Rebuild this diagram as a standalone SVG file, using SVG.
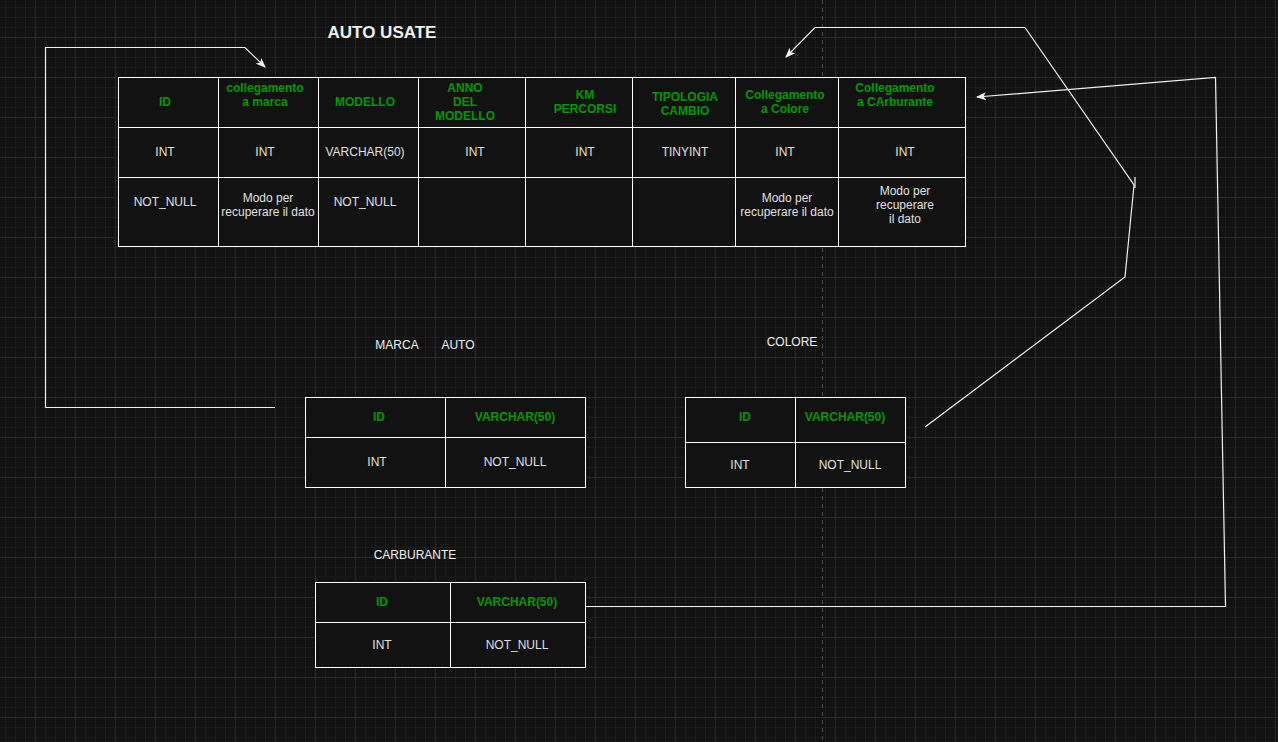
<svg xmlns="http://www.w3.org/2000/svg" width="1278" height="742" viewBox="0 0 1278 742">
<style>
.cell{fill:#121212;stroke:#ffffff;stroke-width:1}
.h{font-family:"Liberation Sans",Arial,sans-serif;font-size:12px;font-weight:bold;fill:#009900;text-anchor:middle;dominant-baseline:central}
.t{font-family:"Liberation Sans",Arial,sans-serif;font-size:12px;fill:#e0e0e0;text-anchor:middle;dominant-baseline:central}
.lbl{font-family:"Liberation Sans",Arial,sans-serif;font-size:12px;fill:#f0f0f0;text-anchor:middle;dominant-baseline:central}
.title{font-family:"Liberation Sans",Arial,sans-serif;font-size:17px;font-weight:bold;fill:#f0f0f0;text-anchor:middle;dominant-baseline:central}
.conn{fill:none;stroke:#f0f0f0;stroke-width:1.2}
</style>
<defs>
<pattern id="minor" x="5" y="7" width="10" height="10" patternUnits="userSpaceOnUse">
<path d="M0.5 0V10M0 0.5H10" stroke="#1c1c1c" stroke-width="1" fill="none"/>
</pattern>
<pattern id="major" x="35" y="37" width="40" height="40" patternUnits="userSpaceOnUse">
<path d="M0.5 0V40M0 0.5H40" stroke="#2a2a2a" stroke-width="1" fill="none"/>
</pattern>
<marker id="arr" viewBox="0 0 10 8" refX="9" refY="4" markerWidth="10" markerHeight="8" markerUnits="userSpaceOnUse" orient="auto">
<path d="M0 0L10 4L0 8L2.5 4Z" fill="#f0f0f0"/>
</marker>
</defs>
<rect width="1278" height="742" fill="#121212"/>
<rect width="1278" height="742" fill="url(#minor)"/>
<rect width="1278" height="742" fill="url(#major)"/>
<line x1="822.5" y1="0" x2="822.5" y2="742" stroke="#4a4a4a" stroke-dasharray="4 4"/>

<text class="title" x="382" y="32">AUTO USATE</text>

<g id="auto-usate">
<rect class="cell" x="118.5" y="77.5" width="847" height="169"/>
<line class="cell" x1="118.5" y1="127.5" x2="965.5" y2="127.5"/>
<line class="cell" x1="118.5" y1="177.5" x2="965.5" y2="177.5"/>
<line class="cell" x1="218.5" y1="77.5" x2="218.5" y2="246.5"/>
<line class="cell" x1="318.5" y1="77.5" x2="318.5" y2="246.5"/>
<line class="cell" x1="418.5" y1="77.5" x2="418.5" y2="246.5"/>
<line class="cell" x1="525.5" y1="77.5" x2="525.5" y2="246.5"/>
<line class="cell" x1="632.5" y1="77.5" x2="632.5" y2="246.5"/>
<line class="cell" x1="735.5" y1="77.5" x2="735.5" y2="246.5"/>
<line class="cell" x1="838.5" y1="77.5" x2="838.5" y2="246.5"/>
<text class="h" x="165" y="102">ID</text>
<text class="h" x="265" y="88">collegamento</text>
<text class="h" x="265" y="102">a marca</text>
<text class="h" x="365" y="102">MODELLO</text>
<text class="h" x="465" y="88">ANNO</text>
<text class="h" x="465" y="102">DEL</text>
<text class="h" x="465" y="116">MODELLO</text>
<text class="h" x="585" y="95">KM</text>
<text class="h" x="585" y="109">PERCORSI</text>
<text class="h" x="685" y="97">TIPOLOGIA</text>
<text class="h" x="685" y="111">CAMBIO</text>
<text class="h" x="785" y="95">Collegamento</text>
<text class="h" x="785" y="109">a Colore</text>
<text class="h" x="895" y="88">Collegamento</text>
<text class="h" x="895" y="102">a CArburante</text>
<text class="t" x="165" y="152">INT</text>
<text class="t" x="265" y="152">INT</text>
<text class="t" x="365" y="152">VARCHAR(50)</text>
<text class="t" x="475" y="152">INT</text>
<text class="t" x="585" y="152">INT</text>
<text class="t" x="685" y="152">TINYINT</text>
<text class="t" x="785" y="152">INT</text>
<text class="t" x="905" y="152">INT</text>
<text class="t" x="165" y="202">NOT_NULL</text>
<text class="t" x="268" y="198">Modo per</text>
<text class="t" x="268" y="212">recuperare il dato</text>
<text class="t" x="365" y="202">NOT_NULL</text>
<text class="t" x="787" y="198">Modo per</text>
<text class="t" x="787" y="212">recuperare il dato</text>
<text class="t" x="905" y="191">Modo per</text>
<text class="t" x="905" y="205">recuperare</text>
<text class="t" x="905" y="219">il dato</text>
</g>

<g id="marca-auto">
<text class="lbl" x="397" y="345">MARCA</text>
<text class="lbl" x="458" y="345">AUTO</text>
<rect class="cell" x="305.5" y="397.5" width="280" height="90"/>
<line class="cell" x1="305.5" y1="437.5" x2="585.5" y2="437.5"/>
<line class="cell" x1="445.5" y1="397.5" x2="445.5" y2="487.5"/>
<text class="h" x="379" y="417">ID</text>
<text class="h" x="515" y="417">VARCHAR(50)</text>
<text class="t" x="377" y="462">INT</text>
<text class="t" x="515" y="462">NOT_NULL</text>
</g>

<g id="colore">
<text class="lbl" x="792" y="342">COLORE</text>
<rect class="cell" x="685.5" y="397.5" width="220" height="90"/>
<line class="cell" x1="685.5" y1="442.5" x2="905.5" y2="442.5"/>
<line class="cell" x1="795.5" y1="397.5" x2="795.5" y2="487.5"/>
<text class="h" x="745" y="417">ID</text>
<text class="h" x="845" y="417">VARCHAR(50)</text>
<text class="t" x="740" y="465">INT</text>
<text class="t" x="850" y="465">NOT_NULL</text>
</g>

<g id="carburante">
<text class="lbl" x="415" y="555">CARBURANTE</text>
<rect class="cell" x="315.5" y="582.5" width="270" height="85"/>
<line class="cell" x1="315.5" y1="622.5" x2="585.5" y2="622.5"/>
<line class="cell" x1="450.5" y1="582.5" x2="450.5" y2="667.5"/>
<text class="h" x="382" y="602">ID</text>
<text class="h" x="517" y="602">VARCHAR(50)</text>
<text class="t" x="382" y="645">INT</text>
<text class="t" x="517" y="645">NOT_NULL</text>
</g>

<g id="connectors">
<polyline class="conn" points="275,407.5 45.5,407.5 45.5,47.5 245,47.5 265,67" marker-end="url(#arr)"/>
<polyline class="conn" points="925,427 1125,277 1134,185 1025,27.5 815,27.5 786,57" marker-end="url(#arr)"/>
<line class="conn" x1="1135" y1="177" x2="1135" y2="188"/>
<polyline class="conn" points="586,606.5 1225.5,606.5 1215.5,77.5 977,97" marker-end="url(#arr)"/>
</g>
</svg>
